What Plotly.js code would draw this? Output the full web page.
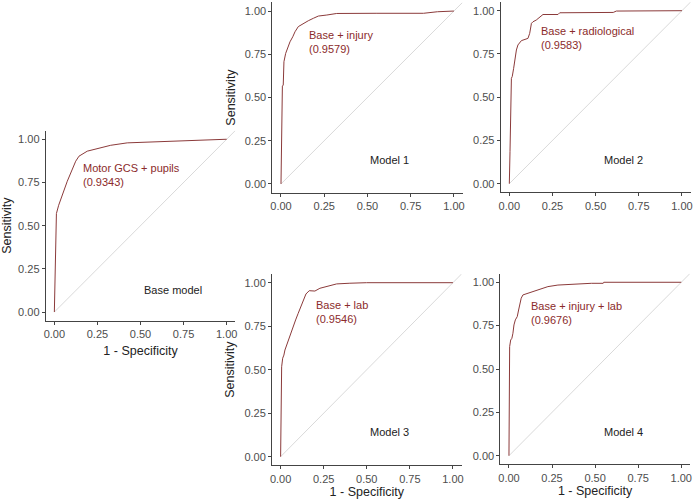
<!DOCTYPE html>
<html><head><meta charset="utf-8">
<script src="https://cdn.plot.ly/plotly-3.0.1.min.js"></script>
<style>html,body{margin:0;padding:0;background:#fff}</style>
</head><body>
<div id="chart" style="width:693px;height:500px"></div>
<script>
// ROC curve data (1 - specificity, sensitivity)
const baseX = [0, 0.012, 0.025, 0.075, 0.124, 0.143, 0.191, 0.249, 0.327, 0.423, 0.675, 0.825, 1];
const baseY = [0, 0.57, 0.618, 0.757, 0.873, 0.902, 0.931, 0.946, 0.965, 0.979, 0.988, 0.99, 1];

const m1X = [0, 0.003, 0.004, 0.008, 0.013, 0.017, 0.027, 0.037, 0.052, 0.068, 0.081, 0.1, 0.129, 0.158, 0.187, 0.216, 0.265, 0.322, 0.55, 0.824, 0.905, 1];
const m1Y = [0, 0.15, 0.158, 0.566, 0.572, 0.707, 0.755, 0.784, 0.822, 0.851, 0.88, 0.91, 0.929, 0.944, 0.958, 0.971, 0.977, 0.986, 0.987, 0.987, 0.996, 1];

const m2X = [0, 0.002, 0.004, 0.012, 0.017, 0.025, 0.041, 0.05, 0.07, 0.108, 0.118, 0.128, 0.137, 0.156, 0.176, 0.195, 0.282, 0.292, 0.602, 0.62, 1];
const m2Y = [0, 0.176, 0.185, 0.609, 0.62, 0.667, 0.773, 0.802, 0.827, 0.84, 0.869, 0.927, 0.936, 0.946, 0.965, 0.978, 0.978, 0.988, 0.99, 0.998, 1];

const m3X = [0, 0.002, 0.006, 0.012, 0.019, 0.025, 0.035, 0.044, 0.054, 0.064, 0.073, 0.087, 0.102, 0.116, 0.131, 0.147, 0.166, 0.199, 0.228, 0.276, 0.325, 0.402, 0.499, 1];
const m3Y = [0, 0.45, 0.517, 0.566, 0.584, 0.613, 0.642, 0.671, 0.7, 0.728, 0.757, 0.786, 0.824, 0.862, 0.901, 0.935, 0.954, 0.952, 0.968, 0.981, 0.993, 0.997, 1, 1];

const m4X = [0, 0.002, 0.004, 0.01, 0.017, 0.023, 0.029, 0.037, 0.048, 0.056, 0.064, 0.071, 0.081, 0.11, 0.129, 0.158, 0.187, 0.226, 0.284, 0.381, 0.478, 0.547, 0.55, 1];
const m4Y = [0, 0.292, 0.629, 0.667, 0.677, 0.706, 0.754, 0.783, 0.802, 0.84, 0.879, 0.908, 0.927, 0.937, 0.946, 0.956, 0.965, 0.975, 0.984, 0.99, 0.994, 0.994, 1, 1];

// reference diagonal
const refX = [0, 1.05];
const refY = [0, 1.05];

const curveNames = ["Motor GCS + pupils", "Base + injury", "Base + radiological", "Base + lab", "Base + injury + lab"];
const aucLabels = ["(0.9343)", "(0.9579)", "(0.9583)", "(0.9546)", "(0.9676)"];
const panelNames = ["Base model", "Model 1", "Model 2", "Model 3", "Model 4"];
const tickVals = [0, 0.25, 0.5, 0.75, 1];
const tickText = ["0.00", "0.25", "0.50", "0.75", "1.00"];
const xTitle = "1 - Specificity";
const yTitle = "Sensitivity";

const curvesX = [baseX, m1X, m2X, m3X, m4X];
const curvesY = [baseY, m1Y, m2Y, m3Y, m4Y];

// layout geometry
const xDomains = [[0.066, 0.3395], [0.393, 0.6675], [0.7225, 0.9965], [0.3925, 0.666], [0.722, 0.9955]];
const yDomains = [[0.3586, 0.7388], [0.6148, 0.9952], [0.6153, 0.9959], [0.0692, 0.452], [0.0712, 0.4528]];
const showXTitle = [true, false, false, true, true];
const showYTitle = [true, true, false, true, false];
const xStandoff = [7, 3, 3, 3, 3];
const labelPos = [[0.155, 0.795], [0.149, 0.822], [0.174, 0.845], [0.193, 0.831], [0.118, 0.821]];
const panelPos = [[0.69, 0.13], [0.627, 0.137], [0.664, 0.137], [0.63, 0.144], [0.667, 0.138]];

const lineColor = "#8b3a3a";
const textColor = "#8b2b2b";
const font = "Liberation Sans, Arial, sans-serif";

const traces = [];
const layout = {
  width: 693, height: 500,
  margin: {l: 0, r: 0, t: 0, b: 0},
  paper_bgcolor: "#ffffff", plot_bgcolor: "#ffffff",
  showlegend: false,
  font: {family: font, size: 11, color: "#333"},
  annotations: []
};

for (let i = 0; i < 5; i++) {
  const xa = i === 0 ? "x" : "x" + (i + 1);
  const ya = i === 0 ? "y" : "y" + (i + 1);
  const xk = i === 0 ? "xaxis" : "xaxis" + (i + 1);
  const yk = i === 0 ? "yaxis" : "yaxis" + (i + 1);
  traces.push({x: refX, y: refY, xaxis: xa, yaxis: ya, type: "scatter", mode: "lines",
    line: {color: "#cfcfcf", width: 0.8}, hoverinfo: "skip"});
  traces.push({x: curvesX[i], y: curvesY[i], xaxis: xa, yaxis: ya, type: "scatter", mode: "lines",
    line: {color: lineColor, width: 1}, name: curveNames[i]});
  const axCommon = {
    range: [-0.05, 1.05], tickvals: tickVals, ticktext: tickText,
    showgrid: false, zeroline: false, showline: true, linecolor: "#444", linewidth: 1,
    ticks: "outside", ticklen: 3, tickcolor: "#444", tickwidth: 1,
    ticklabeloverflow: "allow",
    tickfont: {family: font, size: 11, color: "#4d4d4d"}, fixedrange: true
  };
  layout[xk] = Object.assign({}, axCommon, {
    domain: xDomains[i], anchor: ya,
    title: showXTitle[i] ? {text: xTitle, font: {family: font, size: 12.5, color: "#222"}, standoff: xStandoff[i]} : {text: ""}
  });
  layout[yk] = Object.assign({}, axCommon, {
    domain: yDomains[i], anchor: xa,
    title: showYTitle[i] ? {text: yTitle, font: {family: font, size: 12.5, color: "#222"}, standoff: 6} : {text: ""}
  });
  layout.annotations.push({
    xref: xa, yref: ya, x: labelPos[i][0], y: labelPos[i][1],
    text: curveNames[i] + "<br>" + aucLabels[i], showarrow: false,
    xanchor: "left", yanchor: "middle", align: "left",
    font: {family: font, size: 11, color: textColor}
  });
  layout.annotations.push({
    xref: xa, yref: ya, x: panelPos[i][0], y: panelPos[i][1],
    text: panelNames[i], showarrow: false, xanchor: "center", yanchor: "middle",
    font: {family: font, size: 11, color: "#222"}
  });
}

Plotly.newPlot("chart", traces, layout, {displayModeBar: false, staticPlot: true});
</script>
</body></html>
